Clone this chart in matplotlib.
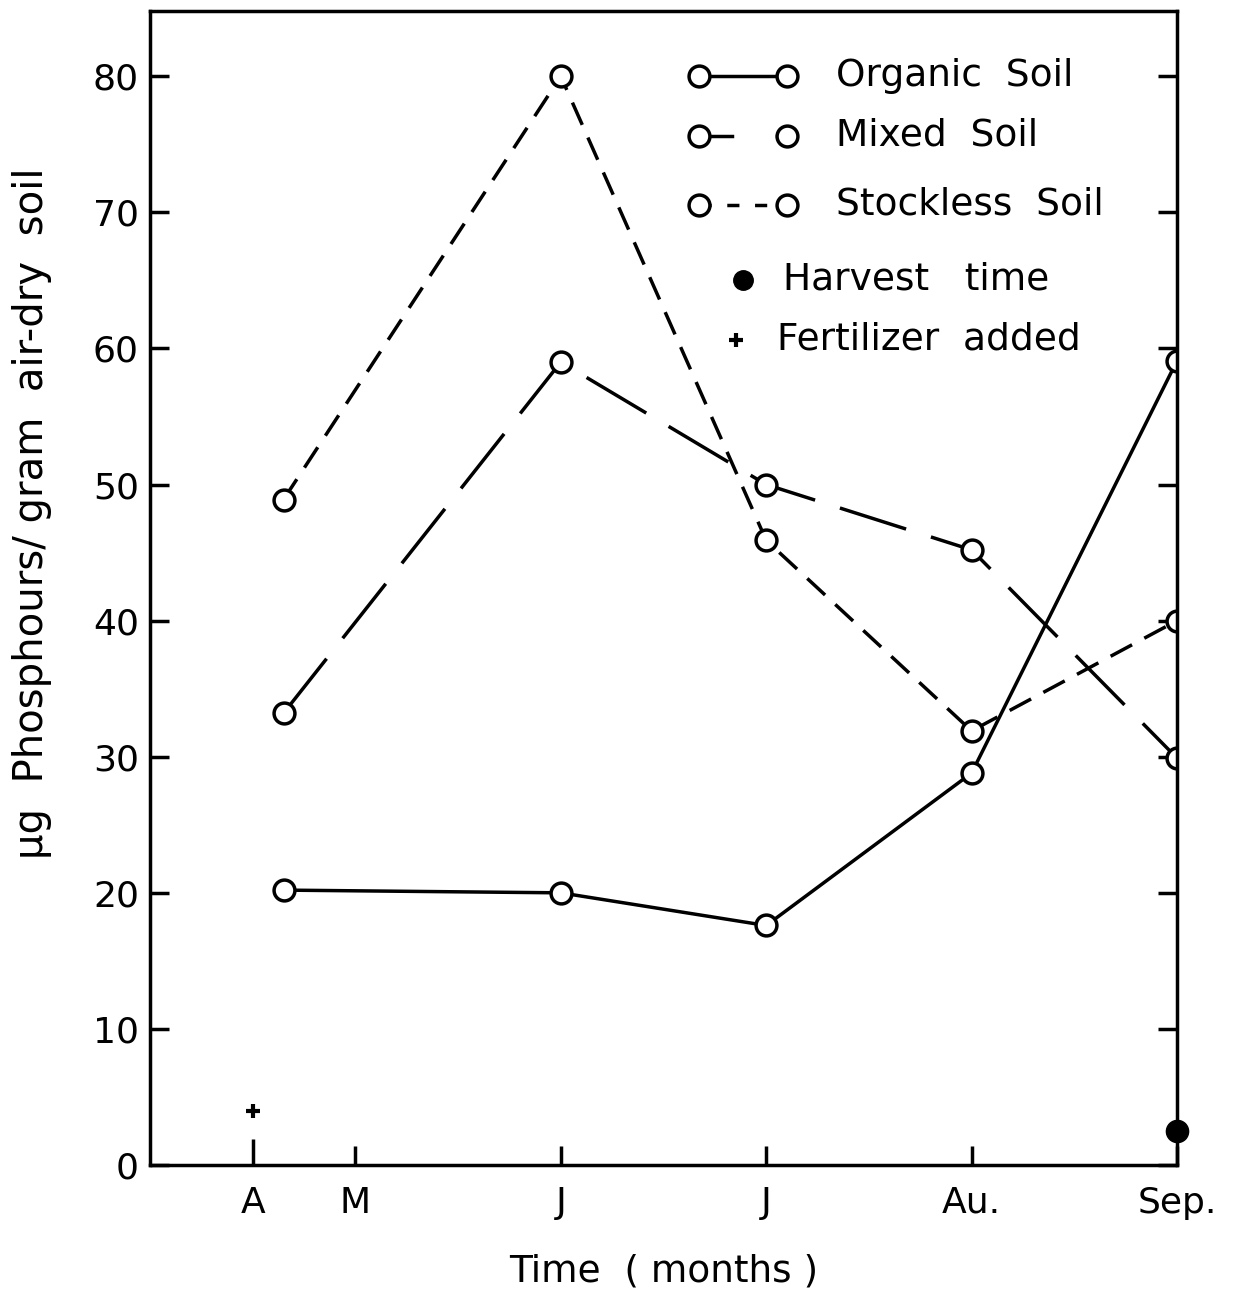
import numpy as np
import matplotlib.pyplot as plt
from matplotlib.lines import Line2D

# months as positions: A=0.5, M=1, J=2, J=3, Au=4, Sep=5
sample_x = [0.65, 2.0, 3.0, 4.0, 5.0]
organic = [20.2, 20.0, 17.6, 28.8, 59.1]
mixed = [33.2, 59.0, 50.0, 45.2, 29.9]
stockless = [48.9, 80.0, 45.9, 31.9, 40.0]

harvest_x = [5.0]
harvest_y = [2.5]
fert_x = [0.5]
fert_y = [4.0]

month_ticks = [1, 2, 3, 4, 5]
month_labels = ['M', 'J', 'J', 'Au.', 'Sep.']
y_ticks = [0, 10, 20, 30, 40, 50, 60, 70, 80]

LW = 2.5
LEG_FS = 27

plt.rcParams['font.family'] = ['DejaVu Sans']

fig = plt.figure(figsize=(12.42, 13.02), dpi=100)
ax = fig.add_axes([150 / 1242, 137 / 1302, 1027 / 1242, 1154 / 1302])

mk = dict(marker='o', markersize=15, markerfacecolor='white',
          markeredgecolor='black', markeredgewidth=LW, color='black', lw=LW)

ax.plot(sample_x, organic, linestyle='-', **mk)
ax.plot(sample_x, mixed, linestyle=(0, (20, 7.5)), **mk)
ax.plot(sample_x, stockless, linestyle=(0, (7, 4)), **mk)

ax.plot(harvest_x, harvest_y, 'o', color='black', markersize=16, zorder=5, clip_on=False)
ax.plot(fert_x, fert_y, '+', color='black', markersize=10, markeredgewidth=3)

ax.set_xlim(0, 5)
ax.set_ylim(0, 84.8)
ax.set_xticks(month_ticks)
ax.set_xticklabels(month_labels)
ax.set_xticks([0.5], minor=True)
ax.set_xticklabels(['A'], minor=True)
ax.set_yticks(y_ticks)

ax.tick_params(axis='x', which='major', direction='in', length=14, width=LW,
               labelsize=26, pad=15)
ax.tick_params(axis='x', which='minor', direction='in', length=19, width=LW,
               labelsize=26, pad=15)
ax.tick_params(axis='y', direction='in', length=14, width=LW, labelsize=26,
               pad=8, right=True)
for s in ax.spines.values():
    s.set_linewidth(LW)

ax.set_xlabel('Time  ( months )', fontsize=27, labelpad=24)
ax.set_ylabel('\u00b5g  Phosphours/ gram  air-dry  soil', fontsize=29)
ax.yaxis.set_label_coords(-0.095, 0.565)

# legend drawn by hand, in axes fraction coordinates
line_styles = ['-', (0, (10, 12)), (0, (3.5, 4.5))]
names = ['Organic  Soil', 'Mixed  Soil', 'Stockless  Soil']
rows = [0.944, 0.892, 0.832]
for ls, name, yy in zip(line_styles, names, rows):
    ax.add_line(Line2D([0.535, 0.62], [yy, yy], transform=ax.transAxes,
                       linestyle=ls, **mk))
    ax.text(0.668, yy, name, transform=ax.transAxes, fontsize=LEG_FS, va='center')

ax.plot([0.577], [0.767], 'o', color='black', markersize=14, transform=ax.transAxes)
ax.text(0.616, 0.767, 'Harvest   time', transform=ax.transAxes, fontsize=LEG_FS, va='center')
ax.plot([0.571], [0.715], '+', color='black', markersize=10, markeredgewidth=3,
        transform=ax.transAxes)
ax.text(0.611, 0.715, 'Fertilizer  added', transform=ax.transAxes, fontsize=LEG_FS, va='center')

fig.savefig('out.png', dpi=100)
